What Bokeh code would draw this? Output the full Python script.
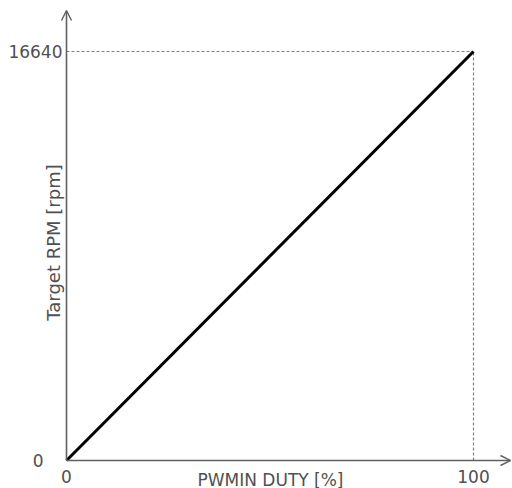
from bokeh.plotting import figure
from bokeh.models import Range1d, Arrow, OpenHead
from bokeh.embed import file_html
from bokeh.resources import INLINE
from bokeh.core.properties import value

# data
duty = [0, 100]
rpm = [0, 16640]
x_ticks = [0, 100]
x_tick_labels = ["0", "100"]
y_ticks = [0, 16640]
y_tick_labels = ["0", "16640"]
x_title = "PWMIN DUTY [%]"
y_title = "Target RPM [rpm]"

W, H = 512, 488
ox, oy = 66, 460          # origin in figure px (from top-left)
sx = 407 / 100.0          # px per % duty
sy = 409 / 16640.0        # px per rpm

p = figure(width=W, height=H, output_backend="svg", toolbar_location=None,
           min_border=0, x_range=Range1d(-ox / sx, (W - ox) / sx),
           y_range=Range1d(-(H - oy) / sy, oy / sy))
p.axis.visible = False
p.grid.visible = False
p.outline_line_color = None
p.background_fill_color = "white"

FONT = value("DejaVu Sans")
TC = "#505050"
AX = "#606060"
FS = "17px"

xr0, xr1 = p.x_range.start, p.x_range.end
yr0, yr1 = p.y_range.start, p.y_range.end

# axes with arrows
p.add_layout(Arrow(x_start=0, y_start=0, x_end=xr1 - 2 / sx, y_end=0,
                   line_color=AX, line_width=1.6,
                   end=OpenHead(size=10, line_color=AX, line_width=1.4)))
p.add_layout(Arrow(x_start=0, y_start=0, x_end=0, y_end=yr1 - 10 / sy,
                   line_color=AX, line_width=1.6,
                   end=OpenHead(size=10, line_color=AX, line_width=1.4)))

# dashed guides
p.line([x_ticks[0], duty[1]], [rpm[1], rpm[1]], line_color="#808080",
       line_width=1.2, line_dash="3 2")
p.line([duty[1], duty[1]], [y_ticks[0], rpm[1]], line_color="#808080",
       line_width=1.2, line_dash="3 2")

# main line
p.line(duty, rpm, line_color="black", line_width=3)

# tick labels
p.text(x=x_ticks, y=[0, 0], text=x_tick_labels, text_font=FONT,
       text_font_size=FS, text_color=TC, text_align="center",
       text_baseline="top", y_offset=9)
p.text(x=[0, 0], y=y_ticks, text=y_tick_labels, text_font=FONT,
       text_font_size=FS, text_color=TC, text_align="right",
       text_baseline="middle", x_offset=[-23, -4])

# titles
p.text(x=[0], y=[0], text=[x_title], text_font=FONT, text_font_size=FS,
       text_color=TC, text_align="center", text_baseline="top", y_offset=9,
       x_offset=[270 - ox])
p.text(x=[0], y=[0], text=[y_title], text_font=FONT,
       text_font_size="18px", text_color=TC, text_align="center",
       text_baseline="alphabetic", angle=1.5708, x_offset=[-13],
       y_offset=[-(oy - 242)])

open("out.html", "w").write(file_html(p, INLINE))
